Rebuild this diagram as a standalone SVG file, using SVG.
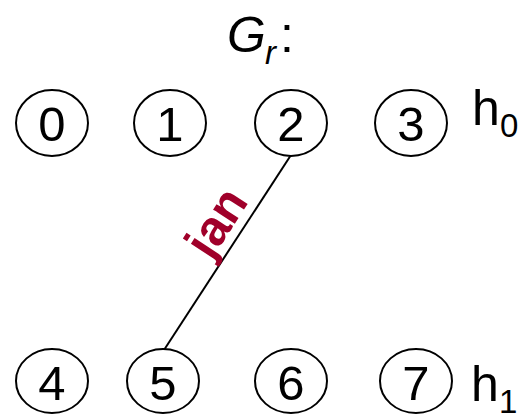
<svg xmlns="http://www.w3.org/2000/svg" width="523" height="415" viewBox="0 0 523 415">
<style>
.n ellipse{fill:#fff;stroke:#000;stroke-width:2}
.n text{font-family:"Liberation Sans",Arial,sans-serif;font-size:49px;text-anchor:middle}
.lbl{font-family:"Liberation Sans",Arial,sans-serif;font-size:50px}
.sub{font-family:"Liberation Sans",Arial,sans-serif;font-size:33px}
.e{stroke:#000;stroke-width:2;fill:none}
</style>
<rect width="523" height="415" fill="#fff"/>
<text class="lbl" x="227" y="52" font-style="italic" font-size="48">G</text>
<text class="sub" x="265" y="64" font-style="italic" font-size="34">r</text>
<text class="lbl" x="280" y="52" font-size="48">:</text>
<g id="connectors">
<line class="e" x1="291" y1="155" x2="164" y2="350"/>
<text transform="translate(230,231) rotate(-57)" font-family="Liberation Sans,Arial,sans-serif" font-weight="bold" font-size="49" fill="#a0002a" text-anchor="middle">jan</text>
</g>
<g id="n0" class="n"><ellipse cx="52" cy="123" rx="36" ry="33"/><text x="52" y="141">0</text></g>
<g id="n1" class="n"><ellipse cx="170" cy="123" rx="36" ry="33"/><text x="170" y="141">1</text></g>
<g id="n2" class="n"><ellipse cx="291" cy="123" rx="36" ry="33"/><text x="291" y="141">2</text></g>
<g id="n3" class="n"><ellipse cx="411" cy="123" rx="36" ry="33"/><text x="411" y="141">3</text></g>
<g id="n4" class="n"><ellipse cx="52" cy="381" rx="36" ry="32"/><text x="52" y="400">4</text></g>
<g id="n5" class="n"><ellipse cx="163" cy="381" rx="36" ry="32"/><text x="163" y="400">5</text></g>
<g id="n6" class="n"><ellipse cx="291" cy="381" rx="36" ry="32"/><text x="291" y="400">6</text></g>
<g id="n7" class="n"><ellipse cx="416" cy="381" rx="36" ry="32"/><text x="416" y="400">7</text></g>
<text class="lbl" x="472" y="125">h</text><text class="sub" x="500" y="137">0</text>
<text class="lbl" x="471" y="401">h</text><text class="sub" x="499" y="413">1</text>
</svg>
